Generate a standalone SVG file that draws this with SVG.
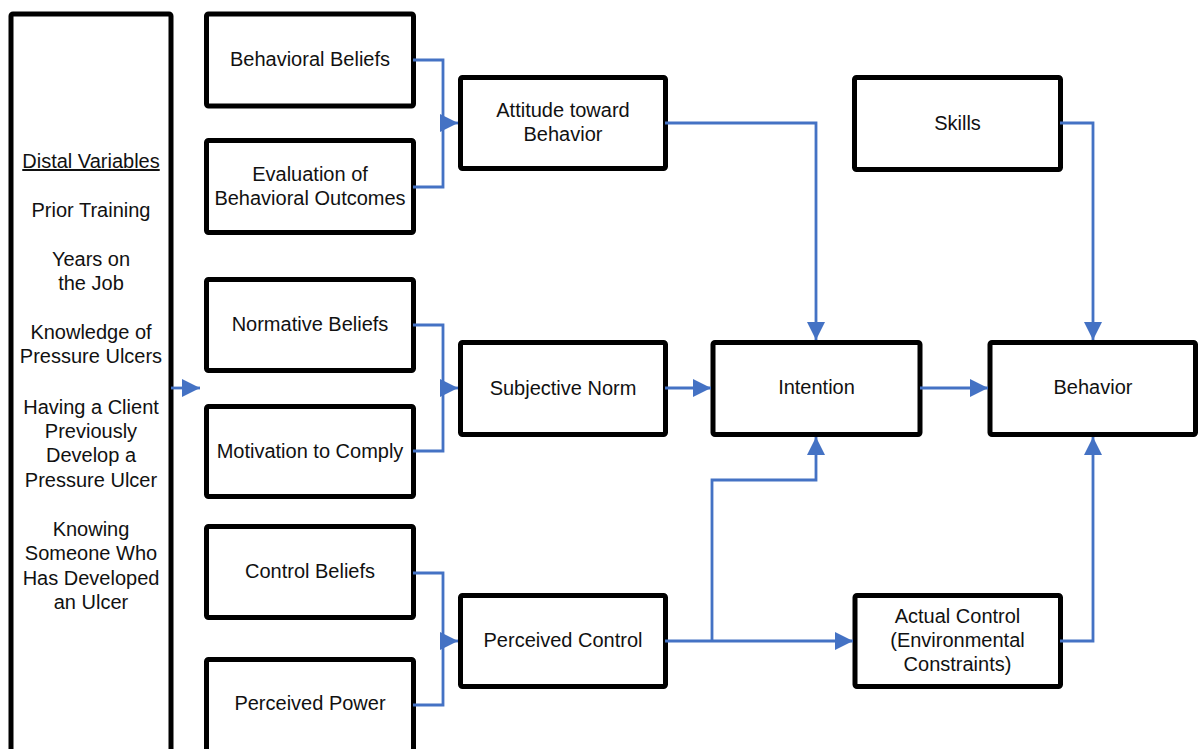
<svg xmlns="http://www.w3.org/2000/svg" width="1199" height="749" viewBox="0 0 1199 749">
  <defs>
    <marker id="arrow" markerUnits="userSpaceOnUse" markerWidth="18" markerHeight="18" refX="18" refY="9" orient="auto">
      <path d="M0,0 L18,9 L0,18 Z" fill="#4472C4"/>
    </marker>
    <style>
      .box { fill: #fff; stroke: #000; stroke-width: 5; }
      .lbl { font-family: "Liberation Sans", Arial, sans-serif; font-size: 20px; fill: #111; text-anchor: middle; }
      .wire { fill: none; stroke: #4472C4; stroke-width: 2.8; }
      .arr { fill: none; stroke: #4472C4; stroke-width: 2.8; marker-end: url(#arrow); }
    </style>
  </defs>
  <rect width="1199" height="749" fill="#fff"/>

  <!-- distal variables column -->
  <g id="distal">
    <rect class="box" x="11" y="14" width="160" height="800" rx="2"/>
    <text class="lbl" x="91" y="168" text-decoration="underline">Distal Variables</text>
    <text class="lbl" x="91" y="217">Prior Training</text>
    <text class="lbl" x="91" y="266">Years on</text>
    <text class="lbl" x="91" y="290">the Job</text>
    <text class="lbl" x="91" y="339">Knowledge of</text>
    <text class="lbl" x="91" y="363">Pressure Ulcers</text>
    <text class="lbl" x="91" y="414">Having a Client</text>
    <text class="lbl" x="91" y="438">Previously</text>
    <text class="lbl" x="91" y="462">Develop a</text>
    <text class="lbl" x="91" y="487">Pressure Ulcer</text>
    <text class="lbl" x="91" y="536">Knowing</text>
    <text class="lbl" x="91" y="560">Someone Who</text>
    <text class="lbl" x="91" y="585">Has Developed</text>
    <text class="lbl" x="91" y="609">an Ulcer</text>
  </g>

  <!-- belief boxes -->
  <g id="behavioral-beliefs">
    <rect class="box" x="206.5" y="14" width="207" height="92" rx="2"/>
    <text class="lbl" x="310" y="66">Behavioral Beliefs</text>
  </g>
  <g id="evaluation">
    <rect class="box" x="206.5" y="140.5" width="207" height="92" rx="2"/>
    <text class="lbl" x="310" y="181">Evaluation of</text>
    <text class="lbl" x="310" y="205">Behavioral Outcomes</text>
  </g>
  <g id="normative-beliefs">
    <rect class="box" x="206.5" y="279.5" width="207" height="91" rx="2"/>
    <text class="lbl" x="310" y="331">Normative Beliefs</text>
  </g>
  <g id="motivation">
    <rect class="box" x="206.5" y="406.5" width="207" height="90" rx="2"/>
    <text class="lbl" x="310" y="458">Motivation to Comply</text>
  </g>
  <g id="control-beliefs">
    <rect class="box" x="206.5" y="526.5" width="207" height="91" rx="2"/>
    <text class="lbl" x="310" y="578">Control Beliefs</text>
  </g>
  <g id="perceived-power">
    <rect class="box" x="206.5" y="659.5" width="207" height="200" rx="2"/>
    <text class="lbl" x="310" y="710">Perceived Power</text>
  </g>

  <!-- middle column -->
  <g id="attitude">
    <rect class="box" x="460.5" y="77.5" width="205" height="91" rx="2"/>
    <text class="lbl" x="563" y="117">Attitude toward</text>
    <text class="lbl" x="563" y="141">Behavior</text>
  </g>
  <g id="subjective-norm">
    <rect class="box" x="460.5" y="342.5" width="205" height="92" rx="2"/>
    <text class="lbl" x="563" y="395">Subjective Norm</text>
  </g>
  <g id="perceived-control">
    <rect class="box" x="460.5" y="595.5" width="205" height="91" rx="2"/>
    <text class="lbl" x="563" y="647">Perceived Control</text>
  </g>

  <!-- intention, skills, actual control, behavior -->
  <g id="intention">
    <rect class="box" x="713" y="342.5" width="207" height="92" rx="2"/>
    <text class="lbl" x="816.5" y="394">Intention</text>
  </g>
  <g id="skills">
    <rect class="box" x="854.5" y="77.5" width="206" height="92" rx="2"/>
    <text class="lbl" x="957.5" y="130">Skills</text>
  </g>
  <g id="actual-control">
    <rect class="box" x="855" y="595.5" width="205.5" height="91" rx="2"/>
    <text class="lbl" x="957.5" y="623">Actual Control</text>
    <text class="lbl" x="957.5" y="647">(Environmental</text>
    <text class="lbl" x="957.5" y="671">Constraints)</text>
  </g>
  <g id="behavior">
    <rect class="box" x="990" y="342.5" width="205.5" height="92" rx="2"/>
    <text class="lbl" x="1093" y="394">Behavior</text>
  </g>

  <!-- connectors -->
  <g id="connectors">
    <path class="arr" d="M171,388 H200"/>
    <path class="wire" d="M413,60 H443 V187 H413"/>
    <path class="arr" d="M443,123 H458"/>
    <path class="wire" d="M413,325 H443 V451 H413"/>
    <path class="arr" d="M443,388 H458"/>
    <path class="wire" d="M413,573 H443 V705 H413"/>
    <path class="arr" d="M443,641 H458"/>
    <path class="arr" d="M665,123 H816 V340"/>
    <path class="arr" d="M665,388 H711"/>
    <path class="arr" d="M920,388 H988"/>
    <path class="arr" d="M1060,123 H1093 V340"/>
    <path class="arr" d="M665,641 H853"/>
    <path class="arr" d="M712,641 V480 H816 V437"/>
    <path class="arr" d="M1060,641 H1093 V437"/>
  </g>
</svg>
